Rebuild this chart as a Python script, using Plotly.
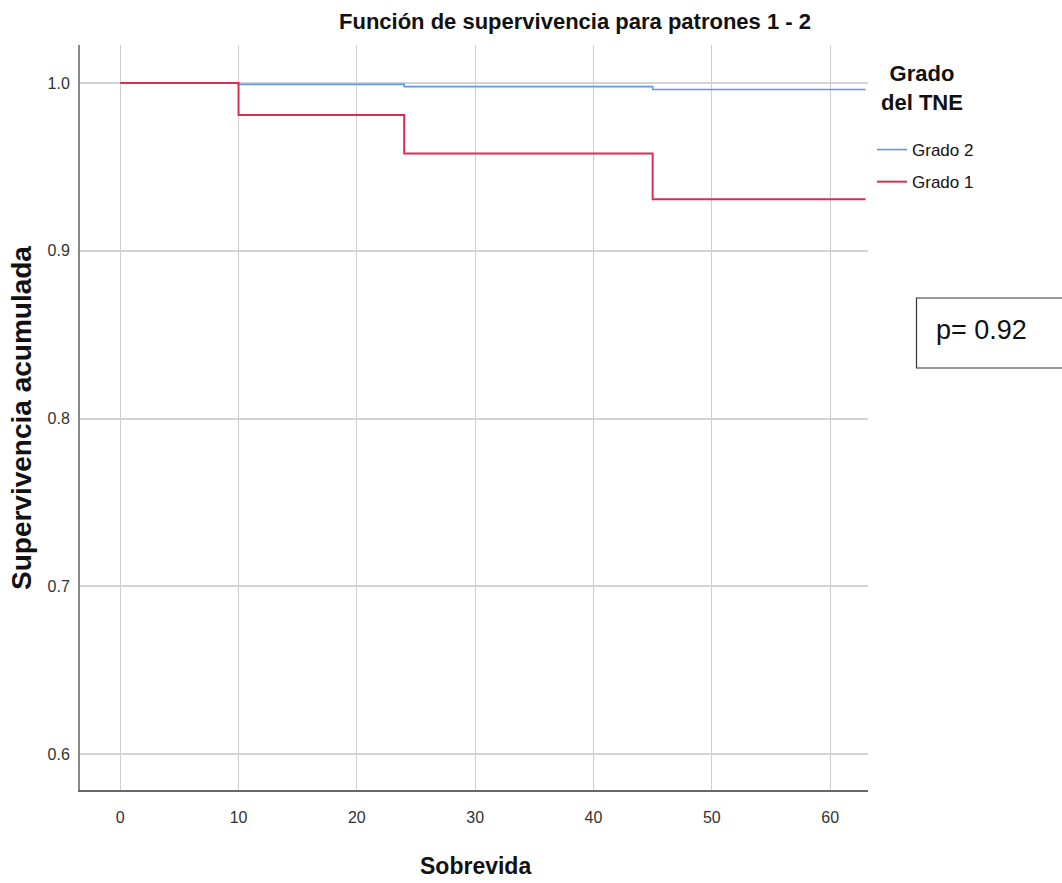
import plotly.graph_objects as go

# Data
times = [0, 10, 24, 45, 63]
grado2_surv = [1.0, 0.9992, 0.9979, 0.9962, 0.9962]
grado1_surv = [1.0, 0.981, 0.958, 0.9307, 0.9307]
x_ticks = [0, 10, 20, 30, 40, 50, 60]
y_ticks = [0.6, 0.7, 0.8, 0.9, 1.0]

BLUE = "#5e9be3"
RED = "#dc2c55"
FONT = "Liberation Sans Narrow, Liberation Sans, Arial, sans-serif"

W, H = 1062, 883
L, R, T, B = 80, 868, 45, 790

fig = go.Figure()
fig.add_trace(go.Scatter(x=times, y=grado2_surv, mode="lines", line_shape="hv",
                         line=dict(color=BLUE, width=1.6), name="Grado 2", legendgroup="g2"))
fig.add_trace(go.Scatter(x=times, y=grado1_surv, mode="lines", line_shape="hv",
                         line=dict(color=RED, width=2), name="Grado 1", legendgroup="g1"))

def px(xp):
    return (xp - L) / (R - L)

def py(yp):
    return (B - yp) / (B - T)

fig.update_layout(
    width=W, height=H,
    margin=dict(l=L, r=W - R, t=T, b=H - B, autoexpand=False),
    paper_bgcolor="white", plot_bgcolor="white",
    font=dict(family=FONT, size=13, color="#222"),
    showlegend=True,
    legend=dict(
        x=px(872), y=py(132), xanchor="left", yanchor="top",
        font=dict(family=FONT, size=17, color="#111"),
        tracegroupgap=7, itemwidth=30,
        traceorder="grouped",
    ),
    xaxis=dict(
        range=[-3.4, 63.2], tickvals=x_ticks, showgrid=True,
        gridcolor="#cfcfcf", gridwidth=1, zeroline=False,
        showline=True, linecolor="#666", linewidth=2,
        ticks="", tickfont=dict(family=FONT, size=16, color="#333"),
        ticklabelstandoff=12, automargin=False,
    ),
    yaxis=dict(
        range=[0.5785, 1.0227], tickvals=y_ticks, tickformat=".1f", showgrid=True,
        gridcolor="#d4d4d4", gridwidth=2, zeroline=False,
        showline=True, linecolor="#888", linewidth=2,
        ticks="", tickfont=dict(family=FONT, size=16, color="#333"),
        ticklabelstandoff=5, automargin=False,
    ),
)

# Axis titles
fig.add_annotation(text="<b>Sobrevida</b>", xref="paper", yref="paper",
                   x=px(475), y=py(866), showarrow=False,
                   font=dict(family=FONT, size=23, color="#111"),
                   xanchor="center", yanchor="middle")
fig.add_annotation(text="<b>Supervivencia acumulada</b>", xref="paper", yref="paper",
                   x=px(21), y=py(418), showarrow=False, textangle=-90,
                   font=dict(family=FONT, size=28, color="#111"),
                   xanchor="center", yanchor="middle")

# Title
fig.add_annotation(text="<b>Función de supervivencia para patrones 1 - 2</b>",
                   xref="paper", yref="paper", x=px(575), y=py(22),
                   showarrow=False, font=dict(family=FONT, size=22, color="#111"),
                   xanchor="center", yanchor="middle")

# Legend title
fig.add_annotation(text="<b>Grado<br>del TNE</b>", xref="paper", yref="paper",
                   x=px(922), y=py(88), showarrow=False, align="center",
                   font=dict(family=FONT, size=22, color="#111"),
                   xanchor="center", yanchor="middle")

# p-value box
fig.add_shape(type="rect", xref="paper", yref="paper",
              x0=px(916.5), x1=px(1070), y0=py(368), y1=py(298),
              line=dict(color="#333", width=1.2), fillcolor="rgba(0,0,0,0)")
fig.add_annotation(text="p= 0.92", xref="paper", yref="paper",
                   x=px(934), y=py(330), showarrow=False,
                   font=dict(family="Liberation Sans, Arial, sans-serif", size=27, color="#111"),
                   xanchor="left", yanchor="middle")

fig.write_html("out.html")
